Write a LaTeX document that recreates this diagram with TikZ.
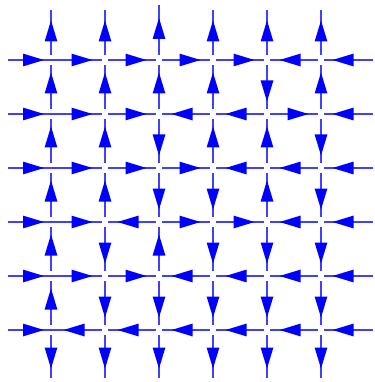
\documentclass[tikz,border=0pt]{standalone}
\usetikzlibrary{decorations.markings}
\definecolor{linecol}{RGB}{64,64,255}
\begin{document}
\begin{tikzpicture}[x=1pt,y=-1pt,
  lin/.style={draw=linecol, line width=1.4pt},
  arr/.style={postaction={decorate},
    decoration={markings, mark=at position 0.5 with {\fill[blue] (14.5pt,0pt) -- (-6.5pt,6.4pt) -- (-6.5pt,-6.4pt) -- cycle;}}}]
\useasboundingbox (0,0) rectangle (374,382);
% vertices and boundary points
\foreach \i in {1,...,6} {
  \foreach \j in {1,...,6} {
    \coordinate (v-\i-\j) at ({51+54*(\i-1)},{60+54*(\j-1)});
    \coordinate (H-\j-\i) at ({51+54*(\i-1)},{60+54*(\j-1)});
    \coordinate (V-\i-\j) at ({51+54*(\i-1)},{60+54*(\j-1)});
  }
}
\foreach \j in {1,...,6} {
  \coordinate (H-\j-0) at (8,{60+54*(\j-1)});
  \coordinate (H-\j-7) at (373,{60+54*(\j-1)});
}
\foreach \i in {1,...,6} {
  \coordinate (V-\i-0) at ({51+54*(\i-1)},10);
  \coordinate (V-\i-7) at ({51+54*(\i-1)},378);
}
\coordinate (V-3-0) at (159,5);
% lines
\foreach \j in {1,...,6} {
  \draw[lin] (H-\j-0) -- (H-\j-1);
  \draw[lin, shorten >=3pt] (H-\j-1) -- (H-\j-2);
  \foreach \k in {2,...,5} {
    \pgfmathtruncatemacro\kk{\k+1}
    \draw[lin, shorten <=3pt, shorten >=3pt] (H-\j-\k) -- (H-\j-\kk);
  }
  \draw[lin, shorten <=3pt] (H-\j-6) -- (H-\j-7);
}
\foreach \i in {1,...,6} {
  \draw[lin, shorten >=5pt] (V-\i-0) -- (V-\i-1);
  \foreach \k in {1,...,5} {
    \pgfmathtruncatemacro\kk{\k+1}
    \draw[lin, shorten <=5pt, shorten >=5pt] (V-\i-\k) -- (V-\i-\kk);
  }
  \draw[lin, shorten <=5pt] (V-\i-6) -- (V-\i-7);
}
% arrows: horizontal, 1 = right, 0 = left
\foreach \j/\dirs in {1/{1,1,1,1,1,0,0}, 2/{1,1,1,0,0,1,0}, 3/{1,1,1,1,0,0,0},
                      4/{1,1,0,1,1,0,0}, 5/{1,1,1,0,0,0,0}, 6/{1,0,0,0,0,0,0}} {
  \foreach \dr [count=\k from 0] in \dirs {
    \pgfmathtruncatemacro\kk{\k+1}
    \ifnum\dr=1
      \path[arr] (H-\j-\k) -- (H-\j-\kk);
    \else
      \path[arr] (H-\j-\kk) -- (H-\j-\k);
    \fi
  }
}
% arrows: vertical, 1 = up, 0 = down
\foreach \i/\dirs in {1/{1,1,1,1,1,1,0}, 2/{1,1,1,1,0,0,0}, 3/{1,1,0,0,1,0,0},
                      4/{1,1,1,0,0,0,0}, 5/{1,0,1,1,0,0,0}, 6/{1,1,0,0,0,0,0}} {
  \foreach \dr [count=\k from 0] in \dirs {
    \pgfmathtruncatemacro\kk{\k+1}
    \ifnum\dr=1
      \path[arr] (V-\i-\kk) -- (V-\i-\k);
    \else
      \path[arr] (V-\i-\k) -- (V-\i-\kk);
    \fi
  }
}
\end{tikzpicture}
\end{document}
